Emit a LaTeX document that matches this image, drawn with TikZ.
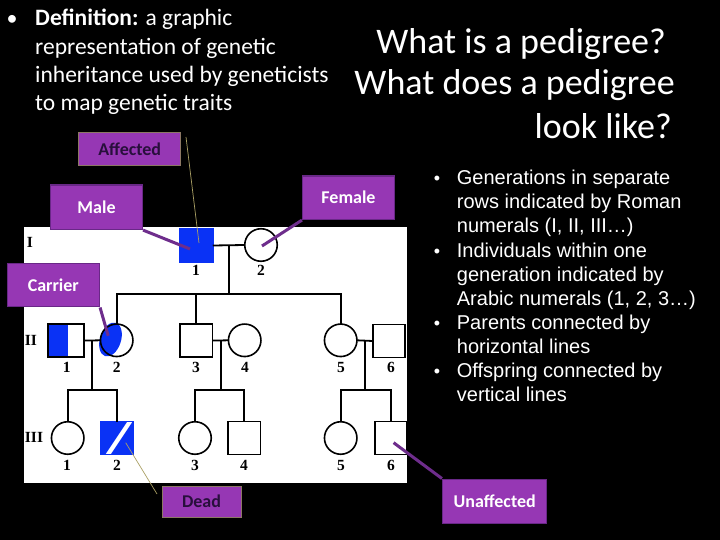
\documentclass[tikz,border=0pt]{standalone}
\usepackage{fontspec}
\setmainfont{Carlito}
\newfontfamily\arialf{Liberation Sans}
\newfontfamily\timesf{Liberation Serif}
\usetikzlibrary{calc}
\definecolor{pblue}{RGB}{10,50,245}
\definecolor{boxfill}{RGB}{150,55,180}
\definecolor{boxedge}{RGB}{105,40,135}
\definecolor{connpurple}{RGB}{110,45,140}
\definecolor{khaki}{RGB}{170,160,100}
\definecolor{brownedge}{RGB}{140,120,100}
\definecolor{darktext}{RGB}{40,15,60}
\begin{document}
\begin{tikzpicture}[x=1pt,y=-1pt,
  sqnode/.style={draw=black,line width=1.8pt,minimum width=32.5pt,minimum height=33pt,inner sep=0pt,outer sep=0pt},
  circnode/.style={circle,draw=black,line width=1.6pt,minimum size=32.5pt,inner sep=0pt,outer sep=0pt},
  pline/.style={draw=black,line width=1.8pt},
  numlab/.style={text=black,font=\timesf\bfseries\fontsize{15.5}{15.5}\selectfont,inner sep=0pt},
  lbox/.style={fill=boxfill,draw=boxedge,line width=1.5pt,text=white,font=\bfseries\fontsize{18}{18}\selectfont,inner sep=0pt},
  lboxdark/.style={lbox,draw=brownedge,line width=1pt,text=darktext},
  thickconn/.style={draw=connpurple,line width=3pt},
  thinconn/.style={draw=khaki,line width=0.7pt},
  deftext/.style={anchor=base west,text=white,font=\fontsize{23.5}{28}\selectfont,inner sep=0pt},
  titletext/.style={anchor=base east,text=white,font=\fontsize{36}{42}\selectfont,inner sep=0pt},
  rtext/.style={anchor=base west,text=white,font=\arialf\fontsize{20}{24}\selectfont,inner sep=0pt},
  rbullet/.style={anchor=base,text=white,font=\arialf\fontsize{18}{24}\selectfont,inner sep=0pt}]
\fill[black] (0,0) rectangle (720,540);
\useasboundingbox (0,0) rectangle (720,540);

% ---------------- left definition text
\node[anchor=base,text=white,font=\fontsize{22}{24}\selectfont,inner sep=0pt] (defb) at (12,26) {•};
\node[deftext] (def1) at (35,26) {\textbf{Definition:} a graphic};
\node[deftext] (def2) at (35,54.3) {representation of genetic};
\node[deftext] (def3) at (35,82.7) {inheritance used by geneticists};
\node[deftext] (def4) at (35,111) {to map genetic traits};

% ---------------- title
\node[titletext] (t1) at (666,53.3) {What is a pedigree?};
\node[titletext] (t2) at (675,95) {What does a pedigree};
\node[titletext] (t3) at (672,138.3) {look like?};

% ---------------- right bullets
\node[rbullet] (rb1) at (437,185) {•};
\node[rtext] (r1) at (456.7,185) {Generations in separate};
\node[rtext] (r2) at (456.7,209) {rows indicated by Roman};
\node[rtext] (r3) at (456.7,233) {numerals (I, II, III…)};
\node[rbullet] (rb2) at (437,257) {•};
\node[rtext] (r4) at (456.7,257) {Individuals within one};
\node[rtext] (r5) at (456.7,281) {generation indicated by};
\node[rtext] (r6) at (456.7,305) {Arabic numerals (1, 2, 3…)};
\node[rbullet] (rb3) at (437,329) {•};
\node[rtext] (r7) at (456.7,329) {Parents connected by};
\node[rtext] (r8) at (456.7,353) {horizontal lines};
\node[rbullet] (rb4) at (437,377) {•};
\node[rtext] (r9) at (456.7,377) {Offspring connected by};
\node[rtext] (r10) at (456.7,401) {vertical lines};

% ---------------- pedigree panel
\fill[white] (24,227) rectangle (407,483);

% fills
\fill[pblue] (180,229) rectangle (213,262);
\fill[pblue] (47.7,324.3) rectangle (67.7,357);
\fill[pblue,rotate around={-18:(110.5,339.5)}] (110.5,339.5) ellipse [x radius=10.5,y radius=17.5];
\fill[pblue] (100,421.5) rectangle (133.3,454.5);
\begin{scope}
\clip (100,421.5) rectangle (133.3,454.5);
\draw[white,line width=4.2pt] (107,456) -- (131,420);
\end{scope}

% generation I
\node[sqnode,draw=pblue] (I1) at (196.5,245.5) {};
\node[circnode] (I2) at (261,245) {};
% generation II
\node[sqnode,minimum width=36.6pt] (II1) at (66,340.6) {};
\node[circnode] (II2) at (116.7,340.3) {};
\node[sqnode] (II3) at (196.3,340.6) {};
\node[circnode] (II4) at (244.7,340.3) {};
\node[circnode] (II5) at (340.7,340.3) {};
\node[sqnode] (II6) at (389,341) {};
% generation III
\node[circnode] (III1) at (67.7,438) {};
\node[sqnode,draw=pblue] (III2) at (116.7,438) {};
\node[circnode] (III3) at (195,438) {};
\node[sqnode] (III4) at (244.3,438) {};
\node[circnode] (III5) at (340.7,438) {};
\node[sqnode] (III6) at (391,438) {};

% couples and offspring
\coordinate (m1) at (228.7,245);
\coordinate (s1) at (228.7,294);
\draw[pline] (I1.east) -- (I2.west);
\draw[pline] (m1) -- (s1);
\draw[pline] (II2.north) -- (II2.north |- s1) -- (II5.north |- s1) -- (II5.north);
\draw[pline] (II3.north) -- (II3.north |- s1);

\coordinate (m2) at (92.3,340.3);
\coordinate (s2) at (92.3,390);
\draw[pline] (II1.east) -- (II2.west);
\draw[pline] (m2) -- (s2);
\draw[pline] (III1.north) -- (III1.north |- s2) -- (III2.north |- s2) -- (III2.north);

\coordinate (m3) at (220.7,340.3);
\coordinate (s3) at (220.7,390);
\draw[pline] (II3.east) -- (II4.west);
\draw[pline] (m3) -- (s3);
\draw[pline] (III3.north) -- (III3.north |- s3) -- (III4.north |- s3) -- (III4.north);

\coordinate (m4) at (365,340.3);
\coordinate (s4) at (365,390);
\draw[pline] (II5.east) -- (II6.west);
\draw[pline] (m4) -- (s4);
\draw[pline] (III5.north) -- (III5.north |- s4) -- (III6.north |- s4) -- (III6.north);

% labels
\node[numlab] (gI) at (30,242) {I};
\node[numlab] (gII) at (31,340) {II};
\node[numlab] (gIII) at (34,437) {III};
\node[numlab] (nI1) at (196,270) {1};
\node[numlab] (nI2) at (261,270) {2};
\node[numlab] (nII1) at (66.7,367) {1};
\node[numlab] (nII2) at (116.7,367) {2};
\node[numlab] (nII3) at (196,367) {3};
\node[numlab] (nII4) at (245,367) {4};
\node[numlab] (nII5) at (341,367) {5};
\node[numlab] (nII6) at (391,367) {6};
\node[numlab] (nIII1) at (67,465) {1};
\node[numlab] (nIII2) at (117,465) {2};
\node[numlab] (nIII3) at (195,465) {3};
\node[numlab] (nIII4) at (244,465) {4};
\node[numlab] (nIII5) at (341,465) {5};
\node[numlab] (nIII6) at (391,465) {6};

% ---------------- callout boxes
\node[lboxdark,minimum width=102pt,minimum height=33.4pt] (affected) at (129.7,149) {Affected};
\node[lbox,minimum width=91.6pt,minimum height=44.3pt] (male) at (96.5,207.2) {Male};
\node[lbox,minimum width=91.6pt,minimum height=43.3pt] (female) at (348.5,197.7) {Female};
\node[lbox,minimum width=92pt,minimum height=43.4pt] (carrier) at (53.3,285) {Carrier};
\node[lboxdark,minimum width=79pt,minimum height=31pt] (dead) at (201.5,501.5) {Dead};
\node[lbox,minimum width=104pt,minimum height=44pt] (unaff) at (494.7,501.3) {Unaffected};

% connectors
\coordinate (affA) at (186,137);
\coordinate (deadA) at (157,494);
\draw[thinconn] (affA) -- ($(I1.center)+(2.5,-2.5)$);
\draw[thickconn] (male.south east) -- ($(I1.center)+(-6.5,3.5)$);
\draw[thickconn] (female.south west) -- ($(I2.center)+(1,1)$);
\draw[thickconn] (carrier.south east) -- ($(II2.center)+(-8.5,-4.5)$);
\draw[thinconn] ($(III2.center)+(9,4.7)$) -- (deadA);
\draw[thickconn] ($(III6.center)+(2.6,4.7)$) -- (unaff.north west);
\end{tikzpicture}
\end{document}
